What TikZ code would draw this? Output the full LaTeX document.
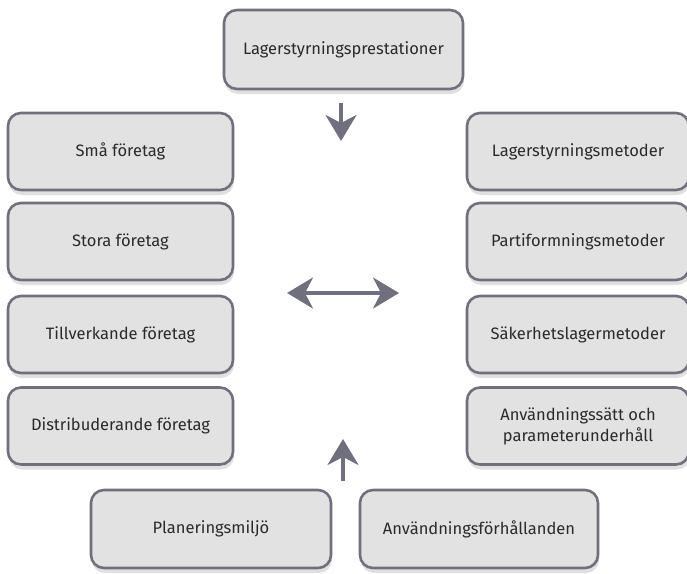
\documentclass[tikz,border=0pt]{standalone}
\usepackage{fontspec}
\setmainfont{Fira Sans}
\usepackage{tikz}
\usetikzlibrary{positioning, calc}
\usetikzlibrary{arrows.meta}
\usetikzlibrary{shadows}
\definecolor{boxline}{HTML}{706F7E}
\definecolor{boxfill}{HTML}{E2E2E2}
\definecolor{txt}{HTML}{2A2A2A}

\begin{document}
\begin{tikzpicture}[x=1pt,y=-1pt]
	\def \rowone{151.5}
	\def \rowtwo{241.5}
	\def \rowthree{334.5}
	\def \rowfour{426}
	\def \basement{529}
	\tikzstyle{b-node}=[draw=boxline,fill=boxfill,line width=2.6pt,rounded corners=13pt,
		text=txt,align=center,font=\fontsize{16.5}{21}\selectfont,
		drop shadow={shadow xshift=1pt,shadow yshift=-5pt,opacity=0.12,fill=black}]
	\tikzstyle{l-node}=[b-node,minimum width=225pt,minimum height=77pt]
	\tikzstyle{r-node}=[b-node,minimum width=222pt,minimum height=77pt]
	\tikzstyle{arr}=[draw=boxline,line width=3.5pt,-{Stealth[length=26pt,width=31pt,inset=8pt]}]
	\useasboundingbox (0,0) rectangle (687,573);

	% top
	\node[b-node,minimum width=239pt,minimum height=79pt] (top) at (343.5,49.5) {Lagerstyrningsprestationer};

	% left column
	\node[l-node] (l0) at (120.5,\rowone)   {Små företag};
	\node[l-node] (l1) at (120.5,\rowtwo)   {Stora företag};
	\node[l-node] (l2) at (120.5,\rowthree) {Tillverkande företag};
	\node[l-node] (l3) at (120.5,\rowfour)  {Distribuderande företag};

	% right column
	\node[r-node] (r0) at (578,\rowone)   {Lagerstyrningsmetoder};
	\node[r-node] (r1) at (578,\rowtwo)   {Partiformningsmetoder};
	\node[r-node] (r2) at (578,\rowthree) {Säkerhetslagermetoder};
	\node[r-node] (r3) at (578,\rowfour)  {Användningssätt och\\parameterunderhåll};

	% bottom
	\node[b-node,minimum width=240pt,minimum height=78pt] (b0) at (211,\basement) {Planeringsmiljö};
	\node[b-node,minimum width=238pt,minimum height=78pt] (b1) at (479,\basement) {Användningsförhållanden};

	% arrows
	\coordinate (dn) at (341,141);
	\coordinate (ml) at (287,293);
	\coordinate (mr) at (399,293);
	\coordinate (up) at (343,439);
	\draw[arr] ([yshift=-13pt]top.south -| dn) -- (dn);
	\draw[arr,{Stealth[length=26pt,width=31pt,inset=8pt]}-{Stealth[length=26pt,width=31pt,inset=8pt]}] (ml) -- (mr);
	\draw[arr] ([yshift=8pt]b0.north -| up) -- (up);
\end{tikzpicture}
\end{document}
